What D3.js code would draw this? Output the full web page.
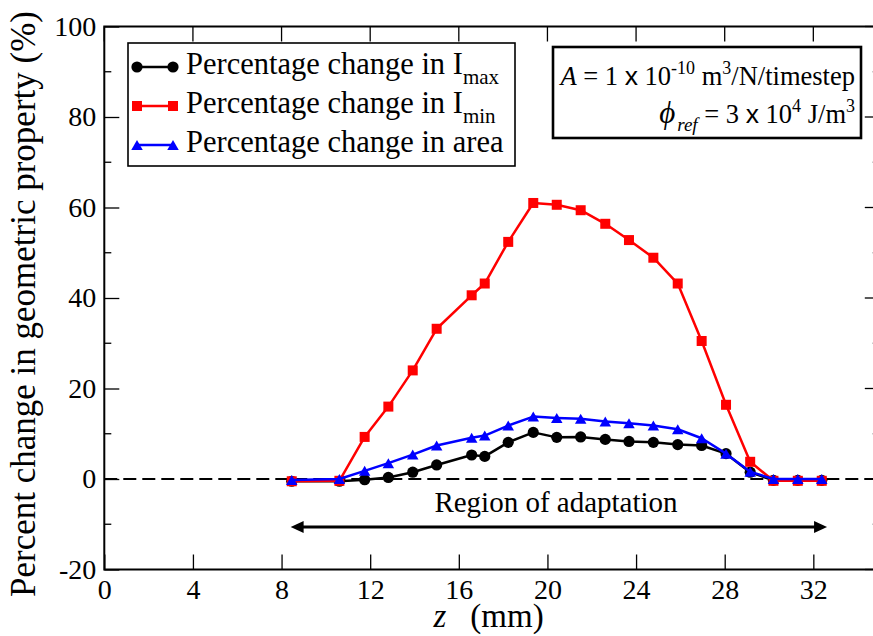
<!DOCTYPE html>
<html><head><meta charset="utf-8">
<script src="https://cdn.jsdelivr.net/npm/d3@7"></script>
<style>
body{margin:0;background:#fff}
svg{display:block}
svg text{font-family:"Liberation Serif","DejaVu Serif",serif;fill:#000}
</style>
</head><body>
<svg id="c" width="873" height="636" font-family="Liberation Serif"></svg>
<script>
// ---- data ----
const zValues = [8.46,10.61,11.75,12.82,13.92,15.00,16.58,17.17,18.23,19.36,20.42,21.50,22.61,23.68,24.78,25.88,26.96,28.06,29.15,30.20,31.30,32.38];
const imaxChange = [-0.5,-0.5,-0.15,0.35,1.5,3.1,5.3,5.0,8.1,10.3,9.2,9.3,8.75,8.3,8.1,7.6,7.4,5.6,1.5,-0.3,-0.3,-0.3];
const iminChange = [-0.5,-0.4,9.3,16.0,24.0,33.2,40.6,43.2,52.4,61.0,60.6,59.4,56.4,52.8,48.9,43.2,30.5,16.4,3.8,-0.4,-0.4,-0.4];
const areaChange = [-0.2,0,1.8,3.5,5.4,7.4,9.1,9.6,11.8,13.8,13.5,13.3,12.7,12.3,11.8,11.0,9.0,5.6,1.6,0,0,0];
const xTicks = [0,4,8,12,16,20,24,28,32];
const yTicks = [-20,0,20,40,60,80,100];
const yMinorTicks = [-10,10,30,50,70,90];
const xDomain = [0,35];
const yDomain = [-20,100];
const regionArrow = [8.41, 32.62, -10.6]; // start z, end z, y
const regionLabel = "Region of adaptation";
const seriesNames = ["Percentage change in I", "Percentage change in I", "Percentage change in area"];
const seriesSubs = ["max", "min", ""];
const seriesColors = ["#000000", "#ff0000", "#0000ff"];
const seriesShapes = ["circle", "square", "triangle"];

const SERIF = '"Liberation Serif","DejaVu Serif",serif';
const SANS = '"Liberation Sans","DejaVu Sans",sans-serif';

// ---- layout ----
const L = 104.3, R = 879.8, T = 26.5, B = 569.5;
const svg = d3.select("#c");
const x = d3.scaleLinear().domain(xDomain).range([L, R]);
const y = d3.scaleLinear().domain(yDomain).range([B, T]);

// zero dashed line
svg.append("line").attr("x1", L).attr("x2", R).attr("y1", y(0)).attr("y2", y(0))
  .attr("stroke", "#000").attr("stroke-width", 2).attr("stroke-dasharray", "13,6");

// axes
const gx = svg.append("g").attr("transform", `translate(0,${B})`)
  .call(d3.axisBottom(x).tickValues(xTicks).tickFormat(d3.format("d")).tickSizeInner(-15).tickSizeOuter(0).tickPadding(10));
const gy = svg.append("g").attr("transform", `translate(${L},0)`)
  .call(d3.axisLeft(y).tickValues(yTicks).tickFormat(d => String(d)).tickSizeInner(-15).tickSizeOuter(0).tickPadding(8));
[gx, gy].forEach(g => {
  g.attr("font-family", null).attr("font-size", null);
  g.select(".domain").remove();
  g.selectAll(".tick line").attr("stroke", "#000").attr("stroke-width", 1.3);
  g.selectAll("text").style("font-family", SERIF).style("font-size", "28px").attr("fill", "#000");
});
gx.selectAll(".tick text").attr("dy", "0.71em");
// minor y ticks (left)
svg.append("g").selectAll("line").data(yMinorTicks).join("line")
  .attr("x1", L).attr("x2", L + 7).attr("y1", d => y(d)).attr("y2", d => y(d))
  .attr("stroke", "#000").attr("stroke-width", 1.3);
// mirrored ticks top
svg.append("g").selectAll("line").data(xTicks).join("line")
  .attr("x1", d => x(d)).attr("x2", d => x(d)).attr("y1", T).attr("y2", T + 15)
  .attr("stroke", "#000").attr("stroke-width", 1.3);
// mirrored ticks right
svg.append("g").selectAll("line").data(yTicks).join("line")
  .attr("x1", R - 15).attr("x2", R).attr("y1", d => y(d)).attr("y2", d => y(d))
  .attr("stroke", "#000").attr("stroke-width", 1.3);
svg.append("g").selectAll("line").data(yMinorTicks).join("line")
  .attr("x1", R - 7).attr("x2", R).attr("y1", d => y(d)).attr("y2", d => y(d))
  .attr("stroke", "#000").attr("stroke-width", 1.3);
// frame
svg.append("rect").attr("x", L).attr("y", T).attr("width", R - L).attr("height", B - T)
  .attr("fill", "none").attr("stroke", "#000").attr("stroke-width", 2);

// marker drawing
function marker(g, shape, cx, cy, color) {
  if (shape === "circle") {
    g.append("circle").attr("cx", cx).attr("cy", cy).attr("r", 5.6).attr("fill", color);
  } else if (shape === "square") {
    g.append("rect").attr("x", cx - 5).attr("y", cy - 5).attr("width", 10).attr("height", 10).attr("fill", color);
  } else {
    const h = 10, w = 11.5;
    g.append("path").attr("d", `M${cx},${cy - h/2}L${cx + w/2},${cy + h/2}L${cx - w/2},${cy + h/2}Z`).attr("fill", color);
  }
}

// series
const allSeries = [imaxChange, iminChange, areaChange];
const line = d3.line().x(d => x(d[0])).y(d => y(d[1]));
allSeries.forEach((vals, i) => {
  const pts = zValues.map((z, j) => [z, vals[j]]);
  const g = svg.append("g");
  g.append("path").attr("d", line(pts)).attr("fill", "none")
    .attr("stroke", seriesColors[i]).attr("stroke-width", 2.5).attr("stroke-linejoin", "round");
  pts.forEach(p => marker(g, seriesShapes[i], x(p[0]), y(p[1]), seriesColors[i]));
});

// region arrow
const ax1 = x(regionArrow[0]), ax2 = x(regionArrow[1]), ay = y(regionArrow[2]);
svg.append("line").attr("x1", ax1 + 6).attr("x2", ax2 - 6).attr("y1", ay).attr("y2", ay)
  .attr("stroke", "#000").attr("stroke-width", 3);
svg.append("path").attr("d", `M${ax1},${ay}L${ax1 + 13},${ay - 6}L${ax1 + 13},${ay + 6}Z`).attr("fill", "#000");
svg.append("path").attr("d", `M${ax2},${ay}L${ax2 - 13},${ay - 6}L${ax2 - 13},${ay + 6}Z`).attr("fill", "#000");
svg.append("text").attr("x", 556).attr("y", 512).attr("text-anchor", "middle")
  .style("font-family", SERIF).style("font-size", "29px").text(regionLabel);

// legend
const leg = svg.append("g");
leg.append("rect").attr("x", 128).attr("y", 43).attr("width", 387).attr("height", 123)
  .attr("fill", "#fff").attr("stroke", "#000").attr("stroke-width", 1.6);
seriesNames.forEach((name, i) => {
  const ry = 67 + i * 39;
  leg.append("line").attr("x1", 137).attr("x2", 173).attr("y1", ry).attr("y2", ry)
    .attr("stroke", seriesColors[i]).attr("stroke-width", 2.5);
  marker(leg, seriesShapes[i], 137, ry, seriesColors[i]);
  marker(leg, seriesShapes[i], 173, ry, seriesColors[i]);
  const t = leg.append("text").attr("x", 186).attr("y", ry + 7)
    .style("font-family", SERIF).style("font-size", "30.5px");
  t.append("tspan").text(name);
  if (seriesSubs[i]) t.append("tspan").attr("dy", 10).style("font-size", "21px").text(seriesSubs[i]);
});

// annotation box
const ann = svg.append("g");
ann.append("rect").attr("x", 553).attr("y", 47).attr("width", 308).attr("height", 91)
  .attr("fill", "#fff").attr("stroke", "#000").attr("stroke-width", 2.6);
const l1 = ann.append("text").attr("x", 855).attr("y", 85).attr("text-anchor", "end")
  .style("font-family", SERIF).style("font-size", "26.5px");
l1.append("tspan").style("font-style", "italic").text("A");
l1.append("tspan").text(" = 1 ");
l1.append("tspan").style("font-family", SANS).text("x");
l1.append("tspan").text(" 10");
l1.append("tspan").attr("dy", -11).style("font-size", "18px").text("-10");
l1.append("tspan").attr("dy", 11).text(" m");
l1.append("tspan").attr("dy", -11).style("font-size", "18px").text("3");
l1.append("tspan").attr("dy", 11).text("/N/timestep");
const l2 = ann.append("text").attr("x", 855).attr("y", 123).attr("text-anchor", "end")
  .style("font-family", SERIF).style("font-size", "26.5px");
l2.append("tspan").style("font-style", "italic").style("font-size", "31px").text("\u03D5");
l2.append("tspan").style("font-style", "italic").style("font-size", "19px").attr("dy", 8).attr("dx", 2).text("ref");
l2.append("tspan").attr("dy", -8).text(" = 3 ");
l2.append("tspan").style("font-family", SANS).text("x");
l2.append("tspan").text(" 10");
l2.append("tspan").attr("dy", -11).style("font-size", "18px").text("4");
l2.append("tspan").attr("dy", 11).text(" J/m");
l2.append("tspan").attr("dy", -11).style("font-size", "18px").text("3");

// axis titles
svg.append("text").attr("transform", "translate(35,304) rotate(-90)").attr("text-anchor", "middle")
  .style("font-family", SERIF).style("font-size", "35px").text("Percent change in geometric property (%)");
svg.append("text").attr("x", 440).attr("y", 627).attr("text-anchor", "middle")
  .style("font-family", SERIF).style("font-size", "33px").style("font-style", "italic").text("z");
svg.append("text").attr("x", 507).attr("y", 627).attr("text-anchor", "middle")
  .style("font-family", SERIF).style("font-size", "33px").text("(mm)");
</script>
</body></html>
